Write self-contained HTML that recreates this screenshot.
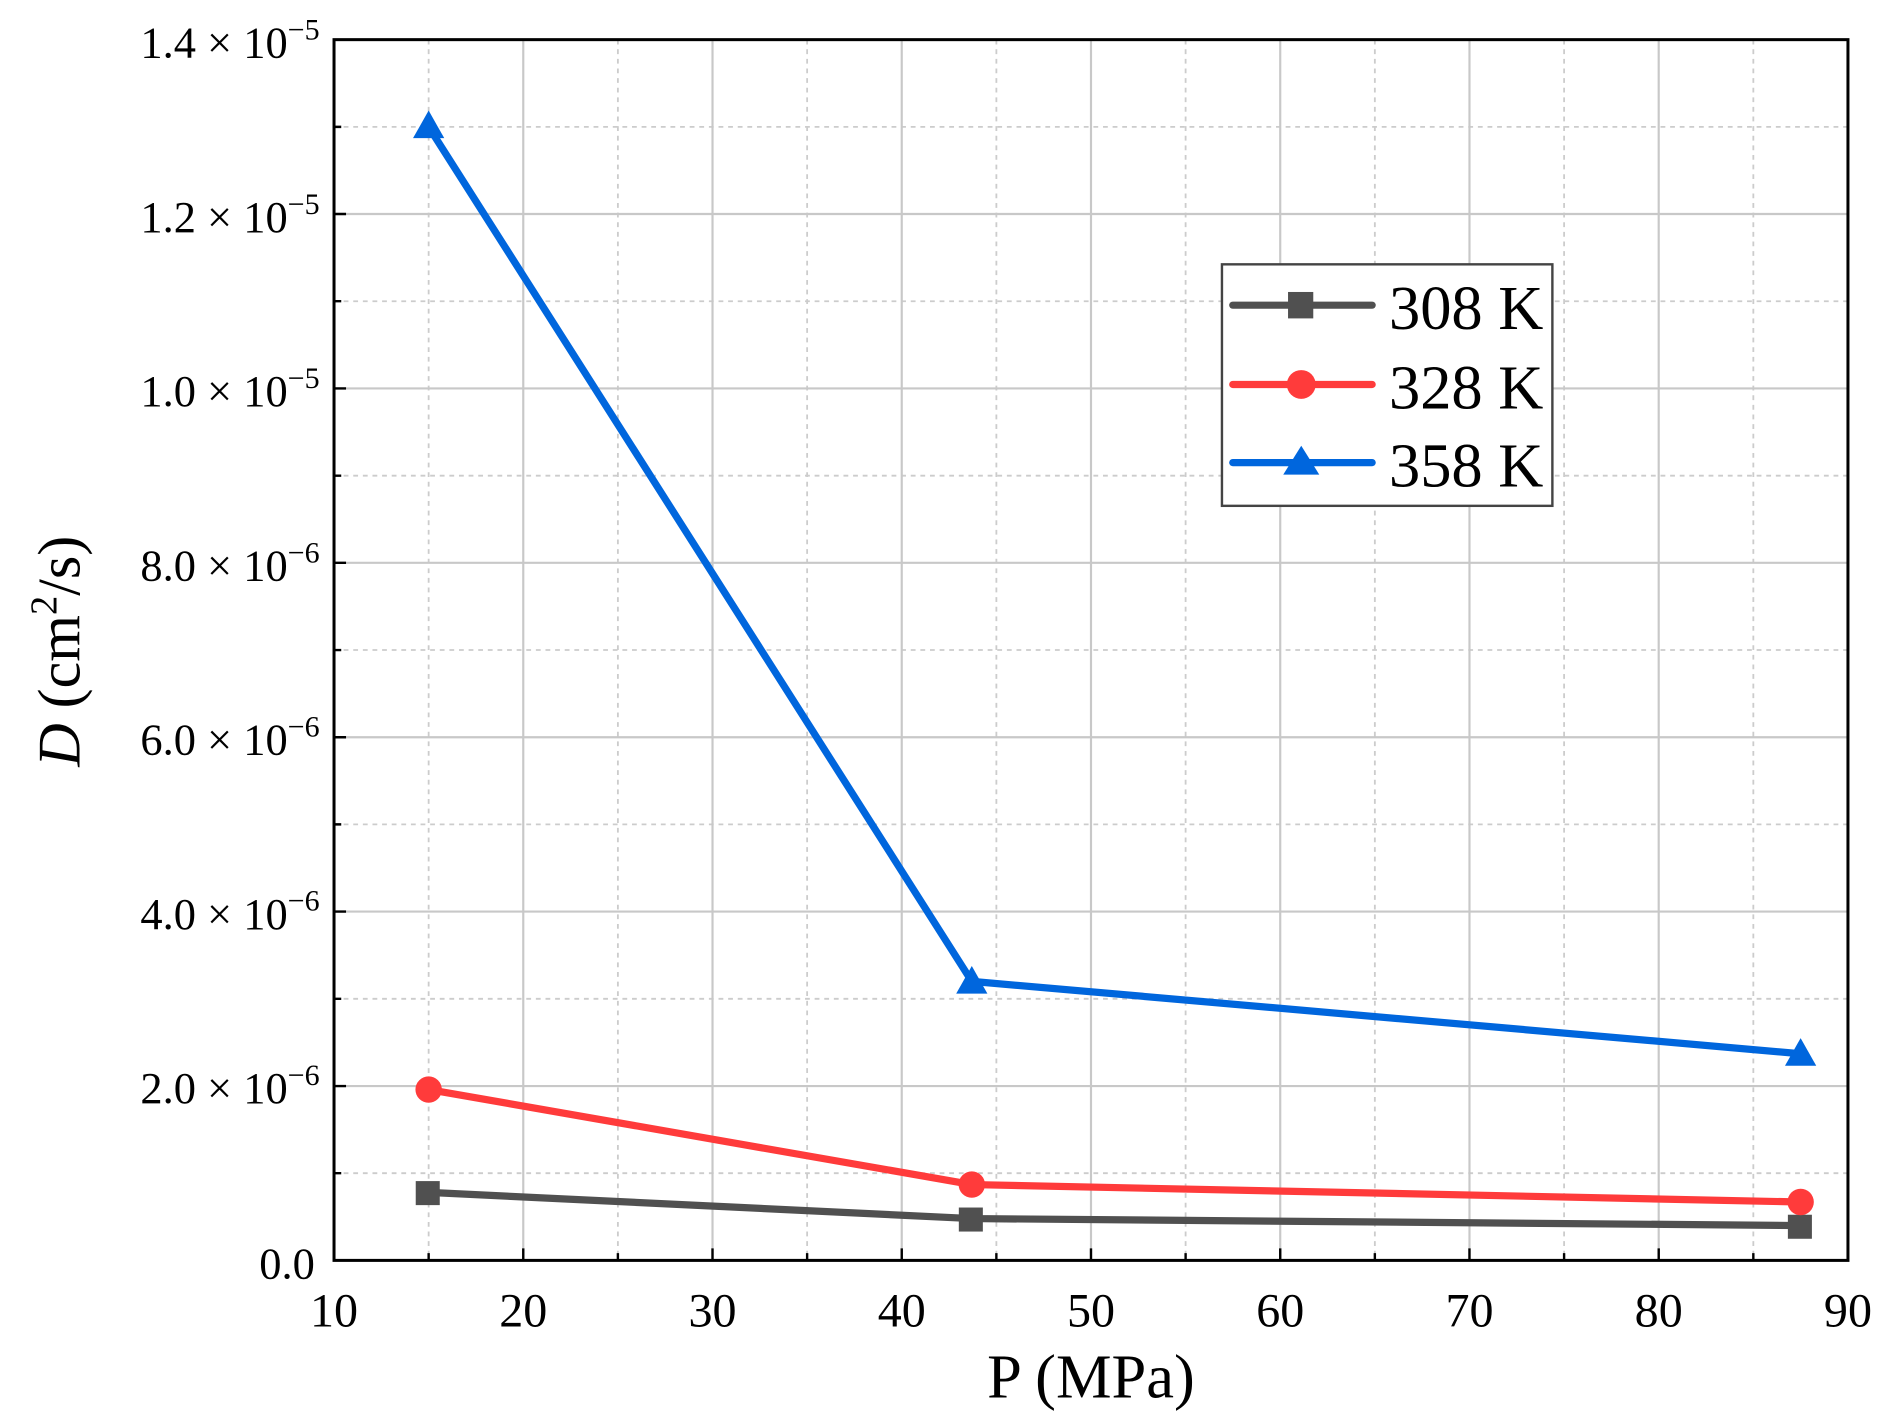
<!DOCTYPE html>
<html><head><meta charset="utf-8"><style>html,body{margin:0;padding:0;background:#fff}svg{display:block}</style></head><body>
<svg width="1884" height="1425" viewBox="0 0 1568 1186" preserveAspectRatio="none" xmlns="http://www.w3.org/2000/svg" font-family="Liberation Serif, serif">
<rect width="1568" height="1186" fill="#fff"/>
<g stroke="#ccc" stroke-width="1.5" stroke-dasharray="4,4">
<line x1="356.75" y1="33" x2="356.75" y2="1049"/><line x1="514.25" y1="33" x2="514.25" y2="1049"/><line x1="671.75" y1="33" x2="671.75" y2="1049"/><line x1="829.25" y1="33" x2="829.25" y2="1049"/><line x1="986.75" y1="33" x2="986.75" y2="1049"/><line x1="1144.25" y1="33" x2="1144.25" y2="1049"/><line x1="1301.75" y1="33" x2="1301.75" y2="1049"/><line x1="1459.25" y1="33" x2="1459.25" y2="1049"/>
<line x1="278" y1="976.4" x2="1538" y2="976.4"/><line x1="278" y1="831.3" x2="1538" y2="831.3"/><line x1="278" y1="686.1" x2="1538" y2="686.1"/><line x1="278" y1="541" x2="1538" y2="541"/><line x1="278" y1="395.9" x2="1538" y2="395.9"/><line x1="278" y1="250.7" x2="1538" y2="250.7"/><line x1="278" y1="105.6" x2="1538" y2="105.6"/>
</g>
<g stroke="#c8c8c8" stroke-width="1.8">
<line x1="435.5" y1="33" x2="435.5" y2="1049"/><line x1="593" y1="33" x2="593" y2="1049"/><line x1="750.5" y1="33" x2="750.5" y2="1049"/><line x1="908" y1="33" x2="908" y2="1049"/><line x1="1065.5" y1="33" x2="1065.5" y2="1049"/><line x1="1223" y1="33" x2="1223" y2="1049"/><line x1="1380.5" y1="33" x2="1380.5" y2="1049"/>
<line x1="278" y1="903.9" x2="1538" y2="903.9"/><line x1="278" y1="758.7" x2="1538" y2="758.7"/><line x1="278" y1="613.6" x2="1538" y2="613.6"/><line x1="278" y1="468.4" x2="1538" y2="468.4"/><line x1="278" y1="323.3" x2="1538" y2="323.3"/><line x1="278" y1="178.1" x2="1538" y2="178.1"/>
</g>
<g stroke="#000" stroke-width="2">
<path d="M435.5 1049v-10M593 1049v-10M750.5 1049v-10M908 1049v-10M1065.5 1049v-10M1223 1049v-10M1380.5 1049v-10M356.75 1049v-6M514.25 1049v-6M671.75 1049v-6M829.25 1049v-6M986.75 1049v-6M1144.25 1049v-6M1301.75 1049v-6M1459.25 1049v-6"/>
<path d="M278 903.9h10M278 758.7h10M278 613.6h10M278 468.4h10M278 323.3h10M278 178.1h10M278 976.4h6M278 831.3h6M278 686.1h6M278 541h6M278 395.9h6M278 250.7h6M278 105.6h6"/>
</g>
<rect x="278" y="33" width="1260" height="1016" fill="none" stroke="#000" stroke-width="2.5"/>
<g stroke-width="6" fill="none" stroke-linejoin="round" stroke-linecap="round">
<polyline stroke="#505050" points="356.75,992.4 808.8,1014.2 1498.6,1020"/>
<polyline stroke="#ff3b3b" points="356.75,906.8 808.8,985.9 1498.6,1000.4"/>
<polyline stroke="#0066dd" points="356.75,105.6 808.8,816.8 1498.6,877"/>
</g>
<g fill="#505050"><rect x="346" y="983" width="20" height="20"/><rect x="798" y="1005" width="20" height="20"/><rect x="1488" y="1011" width="20" height="20"/></g>
<g fill="#ff3b3b"><circle cx="356.75" cy="906.8" r="11"/><circle cx="808.8" cy="985.9" r="11"/><circle cx="1498.6" cy="1000.4" r="11"/></g>
<g fill="#0066dd"><path d="M356.75 92l13 23h-26z"/><path d="M808.8 804l13 23h-26z"/><path d="M1498.6 864l13 23h-26z"/></g>
<rect x="1017" y="220" width="275" height="201" fill="#fff" stroke="#444" stroke-width="2"/>
<g stroke-width="6" stroke-linecap="round"><line x1="1026" y1="254" x2="1142" y2="254" stroke="#505050"/><line x1="1026" y1="320" x2="1142" y2="320" stroke="#ff3b3b"/><line x1="1026" y1="385" x2="1142" y2="385" stroke="#0066dd"/></g>
<rect x="1072" y="243" width="21" height="22" fill="#505050"/><circle cx="1083" cy="320" r="12" fill="#ff3b3b"/><path d="M1083 371l15 24h-30z" fill="#0066dd"/>
<g font-size="52" fill="#000"><text x="1156" y="274">308 K</text><text x="1156" y="340">328 K</text><text x="1156" y="405">358 K</text></g>
<g font-size="40" text-anchor="middle" fill="#000">
<text x="278" y="1104">10</text><text x="435.5" y="1104">20</text><text x="593" y="1104">30</text><text x="750.5" y="1104">40</text><text x="908" y="1104">50</text><text x="1065.5" y="1104">60</text><text x="1223" y="1104">70</text><text x="1380.5" y="1104">80</text><text x="1538" y="1104">90</text>
</g>
<g font-size="37" text-anchor="end" fill="#000">
<text x="262" y="1064">0.0</text>
<text x="266" y="918">2.0 × 10<tspan font-size="25" dy="-15">−6</tspan></text>
<text x="266" y="773">4.0 × 10<tspan font-size="25" dy="-15">−6</tspan></text>
<text x="266" y="628">6.0 × 10<tspan font-size="25" dy="-15">−6</tspan></text>
<text x="266" y="483">8.0 × 10<tspan font-size="25" dy="-15">−6</tspan></text>
<text x="266" y="338">1.0 × 10<tspan font-size="25" dy="-15">−5</tspan></text>
<text x="266" y="193">1.2 × 10<tspan font-size="25" dy="-15">−5</tspan></text>
<text x="266" y="48">1.4 × 10<tspan font-size="25" dy="-15">−5</tspan></text>
</g>
<text x="908" y="1163" font-size="52" text-anchor="middle">P (MPa)</text>
<text transform="translate(66,542) rotate(-90)" font-size="50" text-anchor="middle"><tspan font-style="italic">D</tspan> (cm<tspan font-size="32" dy="-19">2</tspan><tspan dy="19">/s)</tspan></text>
</svg>
</body></html>
